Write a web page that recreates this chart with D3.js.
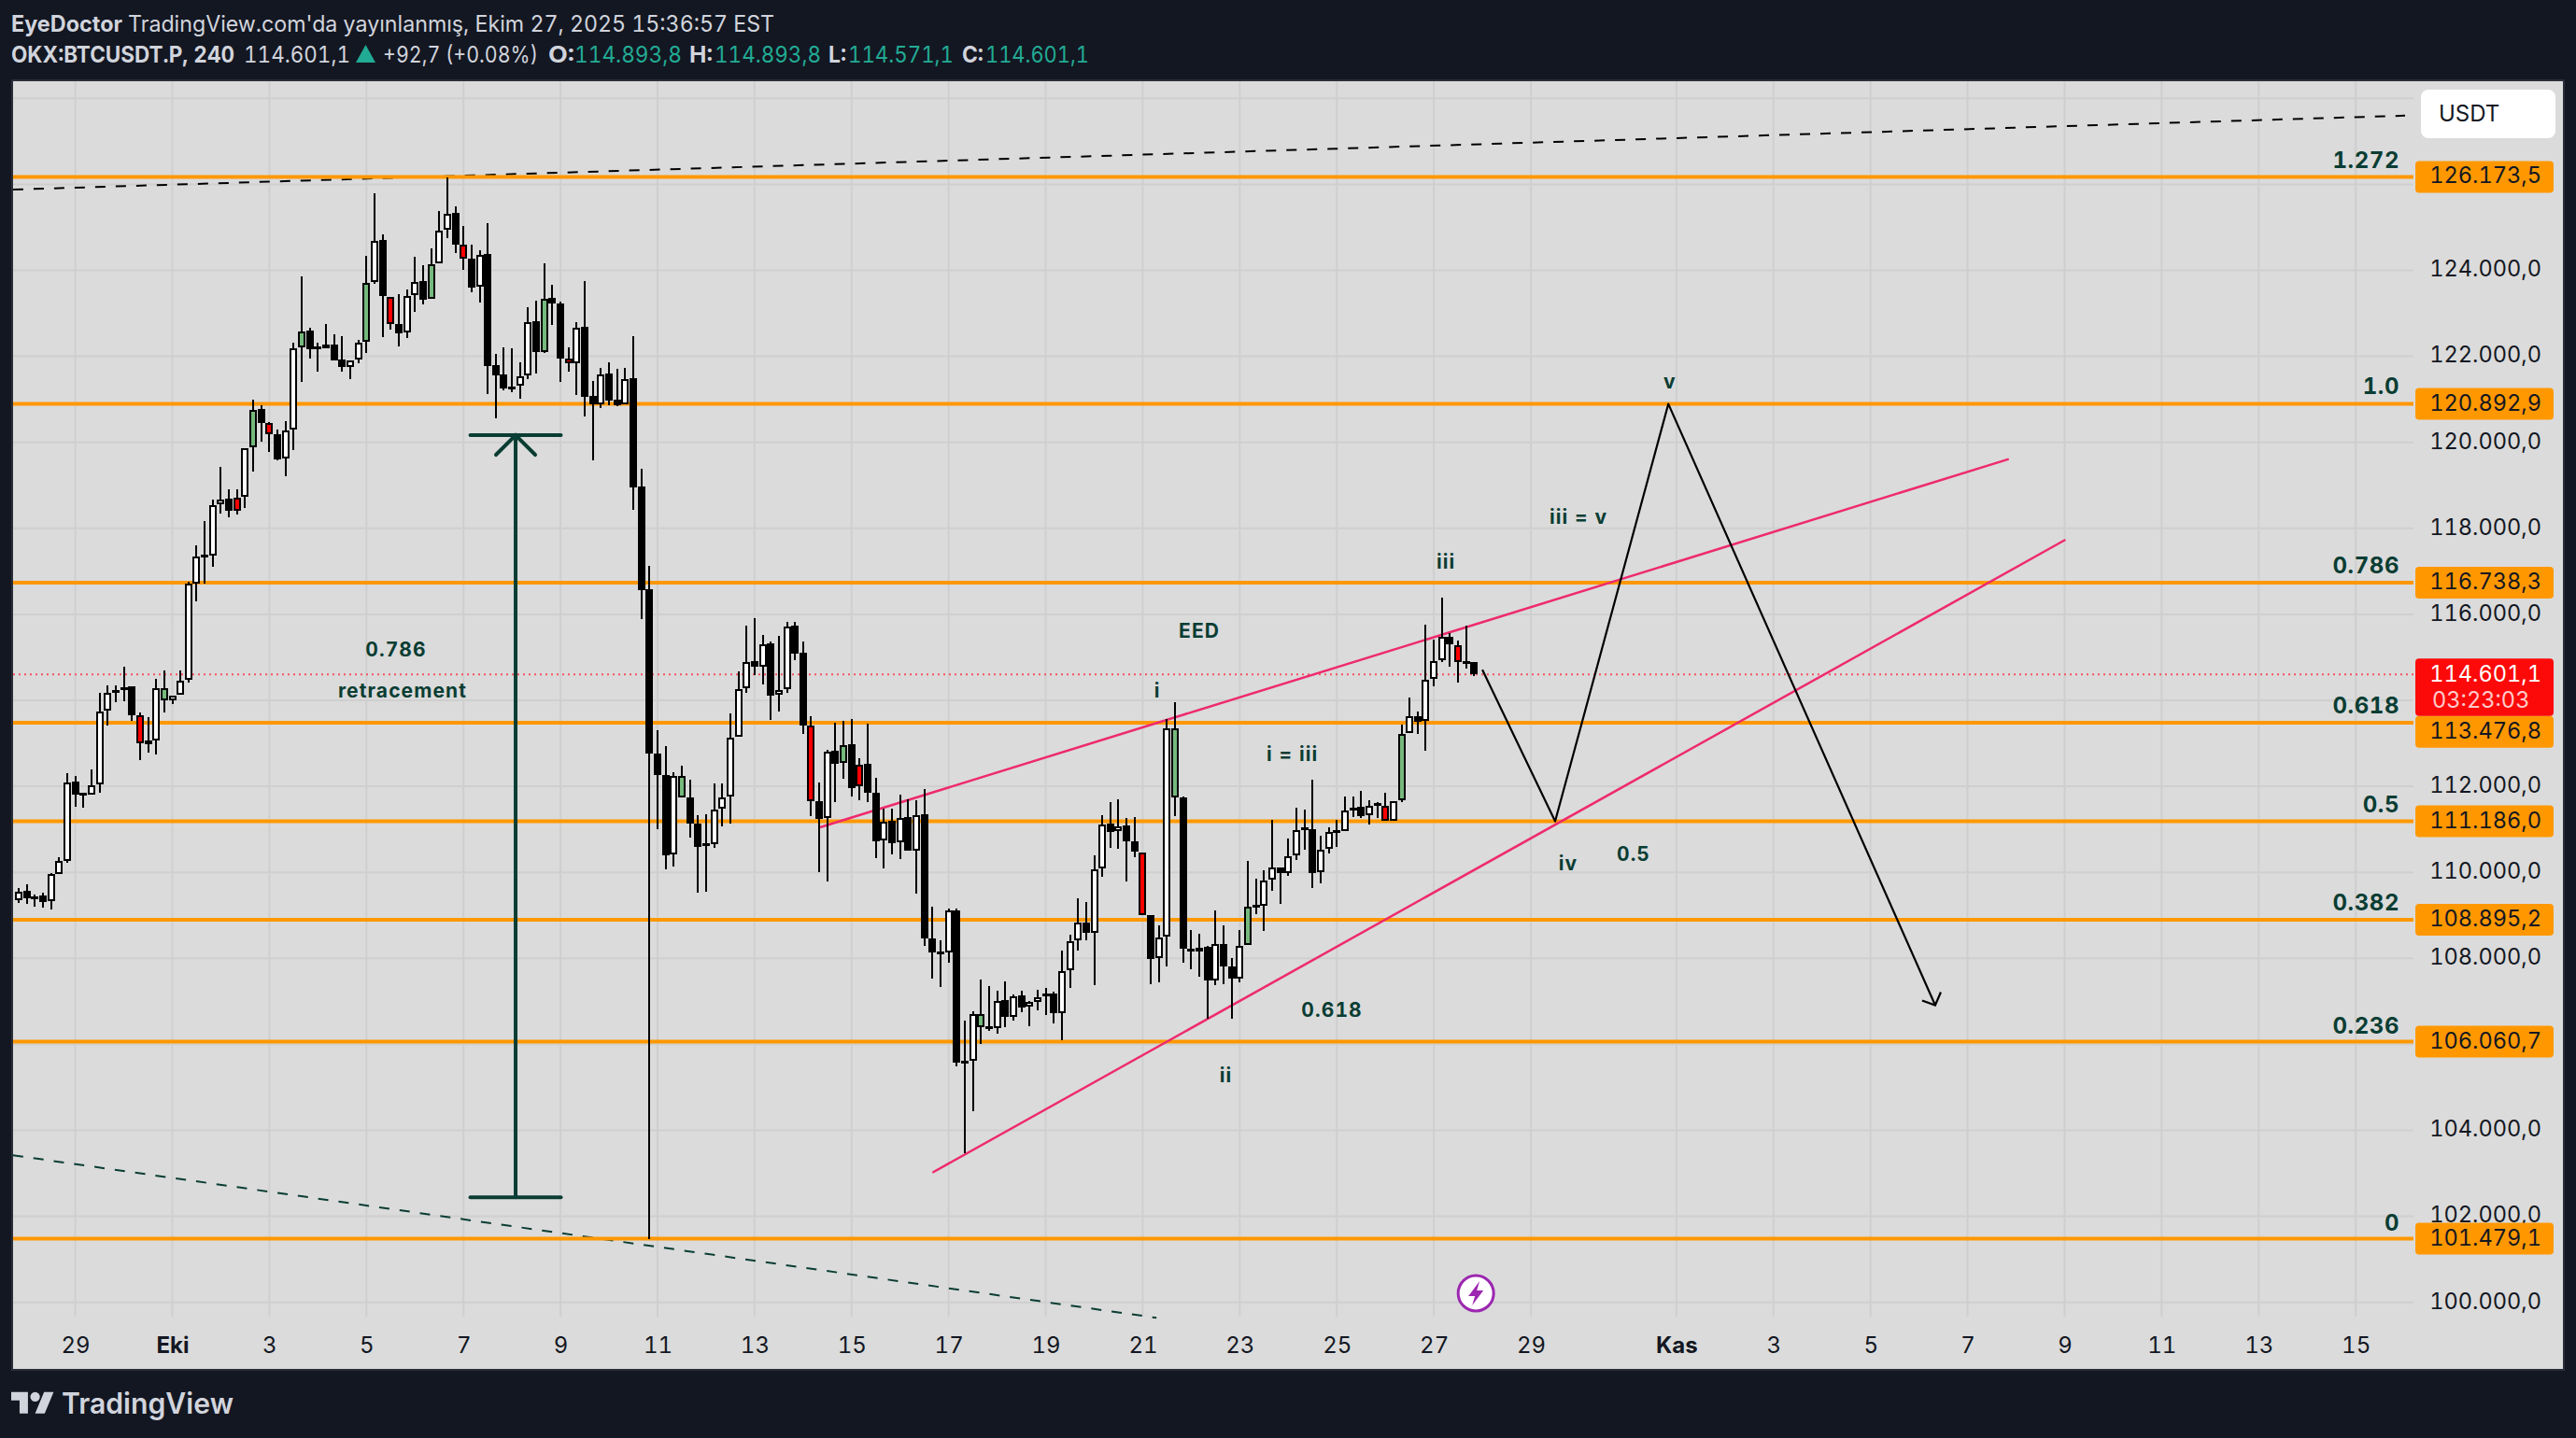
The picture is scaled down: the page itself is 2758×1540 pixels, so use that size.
<!DOCTYPE html>
<html><head><meta charset="utf-8"><script src="https://cdn.jsdelivr.net/npm/d3@7"></script>
<style>html,body{margin:0;padding:0;background:#131722;overflow:hidden}svg{display:block}text{font-family:Inter,"Noto Sans",sans-serif;font-variant-numeric:tabular-nums;font-feature-settings:"tnum" 1}</style></head><body><svg id="c" width="2758" height="1540"></svg>
<script>
const opens=[109345,109563,109440,109454,109331,109953,110272,112110,111843,111799,112038,113753,114246,114231,114318,113659,113059,113059,113992,113992,114123,114470,116707,117380,117366,118560,118683,118719,118734,119884,120767,120456,120181,119624,120297,122208,122591,122222,122266,122266,121918,121752,121918,122338,123720,124698,123388,122743,122555,123424,123750,123330,124162,124944,125327,124604,124263,123619,124372,121788,121571,121303,121310,121556,122809,122106,123351,123221,121954,121831,122678,121072,120890,121593,120985,120876,121484,118972,116577,112755,112255,110417,111748,111741,111140,110670,110648,111473,111756,113153,114282,114904,114781,115317,114123,114253,115729,115100,113420,111647,111264,112827,112545,112972,112501,112516,111843,110742,111198,110699,111278,110496,111350,108472,108154,108128,109107,105613,105613,106394,106420,106377,107021,106634,107132,106875,106995,107115,107192,106729,107716,108412,108841,108592,110086,111125,110953,111082,110730,110464,108995,107999,108506,111743,111743,108231,108154,108266,107484,108343,107802,107527,108308,109245,109219,109828,110120,109991,110395,111047,111013,109999,110541,110979,110967,111496,111518,111322,111612,111539,111206,111670,113240,113638,113515,114500,114927,115484,115289,114905,114893.8];
const highs=[109635,109715,109476,109519,109982,110344,112299,112233,111843,112393,114173,114347,114347,114774,114318,113710,113601,114492,114687,114115,114687,116750,117597,118162,118668,119428,118907,118907,119870,120985,120854,120478,120297,120492,122309,123858,122657,122309,122743,122505,122468,121904,122382,124336,125783,124835,123388,123446,123554,124314,124119,124509,125378,126160,125487,125031,124596,124459,125096,122049,122208,122186,121860,123141,123293,124162,123663,123265,122208,122794,123749,121426,121730,121853,121708,121730,122468,119385,117127,113297,112935,112320,112479,112154,111321,111343,112060,112060,113695,114665,115729,115903,115512,115367,115490,115816,115816,115367,113630,112081,112841,113478,113522,113558,112653,113449,112197,111481,111481,111806,111698,111676,111929,109193,108429,109150,109159,106548,106772,107501,107364,107244,107458,107158,107244,107003,107261,107304,107235,108171,108549,109390,109305,110395,111339,111623,111691,111254,111279,110464,108995,108764,113555,113967,111760,108661,108575,108291,109124,108764,108017,108661,110258,109845,110052,111211,110120,110781,111494,111451,112164,110859,111056,111211,111756,111771,111887,111670,111626,111858,111655,113436,114058,113732,115752,115412,116389,115556,115390,115737,114893.8];
const lows=[109295,109273,109208,109186,109143,109953,110228,111531,111510,111799,111850,113420,113963,113985,113529,112617,112791,112747,113724,113920,114123,114419,116309,116707,117112,118343,118249,118328,118480,119327,120022,119783,119588,119218,119826,121412,121954,121651,122193,121911,121651,121477,121846,122085,123692,122454,122628,122230,122432,123040,123214,123330,124162,124756,124401,124017,123496,123257,121129,120565,121216,121173,121021,121477,121600,122070,122736,121404,121643,121108,120608,119588,120804,120862,120833,120876,118437,115896,101479.1,111003,110076,110142,111748,110815,109534,109548,110576,111075,111140,113153,114180,114578,114376,113551,113739,114180,114940,113225,111314,110011,109794,111640,112176,111770,111683,111633,110337,110098,110424,110315,110496,109512,108296,107519,107338,107888,105484,103458,104453,106016,106308,106256,106402,106557,106755,106411,106797,106686,106497,106085,107321,108188,108420,107381,109905,110567,110549,109794,110361,109004,107407,107433,107819,111314,107905,107742,107562,106600,107373,107407,106600,107441,108308,109030,108626,109562,109270,109923,110283,110532,109631,109751,110429,110592,110967,111279,111264,111120,111264,111199,111192,111641,113240,113219,112835,114326,114898,114782,114420,114738,114571.1];
const closes=[109548,109389,109396,109316,109953,110272,112096,111814,111814,112031,113746,114180,114231,114311,113659,112993,112986,114289,114289,114115,114463,116707,117351,117351,118545,118668,118415,118415,119870,120760,120456,120181,119609,120282,122193,122584,122172,122193,122193,121911,121745,121904,122324,123713,124690,123395,122751,122541,123409,123735,123322,124148,124929,125320,124604,124263,123605,124357,121781,121564,121252,121274,121542,122801,122106,123344,123221,121954,121839,122671,121064,120890,121585,120977,120862,121477,118958,116569,112755,112255,110402,112241,112241,111140,110598,110641,111459,111748,113131,114267,114897,114774,115302,114115,114238,115722,115085,113420,111647,111249,112812,112530,112964,111966,111995,111843,110728,111184,110684,111271,110496,111336,108470,108128,108120,109107,105570,105578,106712,106712,106386,107012,106634,107124,106866,106986,107089,107184,106720,107699,108403,108832,108583,110077,111116,110945,111065,110730,110472,109004,107991,108489,113349,113349,108231,108154,108248,107476,108334,107802,107527,108291,109202,109210,109802,110112,109991,110378,110987,111013,109991,110532,110944,110944,111445,111467,111308,111547,111583,111199,111655,113226,113631,113508,114478,114919,115484,115296,114883,114876,114601.1];
const kinds="wkkkwwwkkw wwkwkrkwgw wwwkwwkrwg krkwwgkkkk kwwgwkrkww kgwwkrkwkk kkwwkgkkrw kkwkkwkkkk kwgkkkwwww wkwkwwkkrk wkgkrkkwkw kwkkkwkkwg kwkwkwwwkw wwkwwkwkkr kwwgkrwkwk kwgkwwkwwk kwwkwkkwkr wgwkwwwkrkk".replace(/ /g,"").split("");
const fibLevels=[126173.5,120892.9,116738.3,113476.8,111186.0,108895.2,106060.7,101479.1];
const fibNames=["1.272","1.0","0.786","0.618","0.5","0.382","0.236","0"];
const fibNameOffsets=[-18.5,-19,-19,-18.5,-18.5,-18.5,-17.5,-17.5];
const priceTicks=d3.range(100000,128001,2000);
const priceLabelTicks=d3.range(100000,124001,2000);
const dateBars=[7,19,31,43,55,67,79,91,103,115,127,139,151,163,175,187,205,217,229,241,253,265,277,289];
const dateLabels=["29","Eki","3","5","7","9","11","13","15","17","19","21","23","25","27","29","Kas","3","5","7","9","11","13","15"];
const lastPrice=114601.1;
const notes=[["0.786",46.66,115194],["retracement",47.47,114238],["EED",146,115628],["i",140.8,114238],["i = iii",157.5,112762],["0.618",162.4,106797],["ii",149.3,105292],["iii",176.5,117220],["iii = v",192.9,118263],["v",204.2,121412],["iv",191.6,110221],["0.5",199.7,110423]];
const waveBars=[181,190,204,237], wavePrices=[114710,111186,120892.9,106910];
const upperBars=[99.1,246.1], upperPrices=[111046,119611];
const lowerBars=[113,253.1], lowerPrices=[103018,117735];
const topDashBars=[-0.7,295.1], topDashPrices=[125878,127598];
const lowDashBars=[-0.7,140.7], lowDashPrices=[103420,99640];
const rulerBar=61.45, rulerBarHalf=5.6, rulerTop=120167, rulerBottom=102440;

const L=14,T=87,R=2744,B=1466,PR=2584,PB=1410;
const x=d3.scaleLinear().domain([0,180]).range([20,1578.44]);
const y=d3.scaleLinear().domain([100000,124000]).range([1394.7,289.5]);
const svg=d3.select("#c");
const dark="#0a3d33",orange="#ff9800",pink="#ee2a6e",ink="#131722";
const fmt=d3.formatLocale({decimal:",",thousands:".",grouping:[3],currency:["",""]}).format(",.1f");
const line=d3.line().x(d=>x(d[0])).y(d=>y(d[1]));
const zip=(a,b)=>a.map((v,i)=>[v,b[i]]);

svg.append("rect").attr("width",2758).attr("height",1540).attr("fill","#131722");
svg.append("rect").attr("x",L-1).attr("y",T-1).attr("width",R-L+2).attr("height",B-T+2).attr("fill","#dbdbdb").attr("stroke","#2a2e39").attr("stroke-width",2);

// grid
svg.append("g").selectAll("line").data(priceTicks).join("line").attr("x1",L).attr("x2",PR).attr("y1",d=>y(d)).attr("y2",d=>y(d)).attr("stroke","#cfcfcf").attr("stroke-width",2);
svg.append("g").selectAll("line").data(dateBars).join("line").attr("x1",d=>x(d)).attr("x2",d=>x(d)).attr("y1",T).attr("y2",PB).attr("stroke","#cfcfcf").attr("stroke-width",2);

// dashed trend lines
svg.append("path").attr("d",line(zip(topDashBars,topDashPrices))).attr("fill","none").attr("stroke","#000").attr("stroke-width",2).attr("stroke-dasharray","11 11");
svg.append("path").attr("d",line(zip(lowDashBars,lowDashPrices))).attr("fill","none").attr("stroke",dark).attr("stroke-width",2).attr("stroke-dasharray","11 11");

// fib lines
svg.append("g").selectAll("line").data(fibLevels).join("line").attr("x1",L).attr("x2",PR).attr("y1",d=>y(d)).attr("y2",d=>y(d)).attr("stroke",orange).attr("stroke-width",4);
// last price
svg.append("line").attr("x1",L).attr("x2",PR).attr("y1",y(lastPrice)).attr("y2",y(lastPrice)).attr("stroke","#f7525f").attr("stroke-width",2).attr("stroke-dasharray","2 4");

// ruler
const rg=svg.append("g").attr("stroke",dark).attr("stroke-width",4).attr("fill","none").attr("stroke-linecap","round");
const rx=x(rulerBar);
rg.append("line").attr("x1",rx).attr("x2",rx).attr("y1",y(rulerTop)).attr("y2",y(rulerBottom));
[[rulerTop],[rulerBottom]].forEach(([p])=>rg.append("line").attr("x1",x(rulerBar-rulerBarHalf)).attr("x2",x(rulerBar+rulerBarHalf)).attr("y1",y(p)).attr("y2",y(p)));
rg.append("path").attr("d",`M${rx-21},${y(rulerTop)+21}L${rx},${y(rulerTop)}L${rx+21},${y(rulerTop)+21}`);

// pink wedge
svg.append("path").attr("d",line(zip(upperBars,upperPrices))).attr("fill","none").attr("stroke",pink).attr("stroke-width",2.5);
svg.append("path").attr("d",line(zip(lowerBars,lowerPrices))).attr("fill","none").attr("stroke",pink).attr("stroke-width",2.5);

// wave
svg.append("path").attr("d",line(zip(waveBars,wavePrices))).attr("fill","none").attr("stroke","#000").attr("stroke-width",2.2).attr("stroke-linejoin","round");
const ae=[x(waveBars[3]),y(wavePrices[3])];
svg.append("path").attr("d",`M${ae[0]-14},${ae[1]-5}L${ae[0]},${ae[1]}L${ae[0]+6},${ae[1]-14}`).attr("fill","none").attr("stroke","#000").attr("stroke-width",2.2);

// candles
const fillOf={w:"#fff",k:"#000",g:"#76b97c",r:"#ff0000"};
const idx=d3.range(opens.length);
const cg=svg.append("g").attr("shape-rendering","crispEdges");
const px=i=>Math.round(x(i));
cg.selectAll("rect.w").data(idx).join("rect").attr("class","w").attr("x",i=>px(i)-1).attr("width",2).attr("y",i=>y(highs[i])).attr("height",i=>y(lows[i])-y(highs[i])).attr("fill","#000");
cg.selectAll("rect.b").data(idx).join("rect").attr("class","b")
 .attr("x",i=>px(i)-3).attr("width",6)
 .attr("y",i=>y(Math.max(opens[i],closes[i]))+1)
 .attr("height",i=>Math.max(1,y(Math.min(opens[i],closes[i]))-y(Math.max(opens[i],closes[i]))-2))
 .attr("fill",i=>fillOf[kinds[i]]).attr("stroke","#000").attr("stroke-width",2);

// annotations
const tg=svg.append("g").attr("font-weight",700).attr("font-size",21).attr("fill",dark).attr("text-anchor","middle").attr("letter-spacing",1.1);
tg.selectAll("text").data(notes).join("text").attr("x",d=>x(d[1])).attr("y",d=>y(d[2])).attr("dy",".36em").text(d=>d[0]);
svg.append("g").attr("font-weight",700).attr("font-size",24).attr("fill",dark).attr("text-anchor","end").attr("letter-spacing",0.6)
 .selectAll("text").data(fibLevels).join("text").attr("x",2569).attr("y",(d,i)=>y(d)+fibNameOffsets[i]).attr("dy",".36em").text((d,i)=>fibNames[i]);

// axes
const yAxis=d3.axisRight(y).tickValues(priceLabelTicks).tickSize(0).tickPadding(0).tickFormat(fmt);
const ya=svg.append("g").attr("transform","translate(2721,-2.2)").call(yAxis);
ya.select(".domain").remove();
ya.attr("text-anchor","end").attr("font-size",23.6).attr("font-family",null);
ya.selectAll("text").attr("fill",ink).attr("font-family","Inter").attr("dy",".36em").attr("x",0);
const xAxis=d3.axisBottom(x).tickValues(dateBars).tickSize(0).tickPadding(0).tickFormat((d,i)=>dateLabels[i]);
const xa=svg.append("g").attr("transform","translate(0,1440)").call(xAxis);
xa.select(".domain").remove();
xa.attr("font-size",24);
xa.selectAll("text").attr("fill",ink).attr("font-family","Inter").attr("dy",".36em").attr("y",0).attr("font-weight",(d,i)=>/[A-Za-z]/.test(dateLabels[i])?700:400);

// price labels
const redTop=y(lastPrice)-17, redH=61.5;
const lg=svg.append("g");
fibLevels.forEach(p=>{
  const top=Math.max(y(p)-17, (p<lastPrice&&y(p)-17<redTop+redH)?redTop+redH:0);
  lg.append("rect").attr("x",2586).attr("y",top).attr("width",148).attr("height",34).attr("rx",4).attr("fill",orange);
  lg.append("text").attr("x",2721).attr("y",top+15.5).attr("dy",".36em").attr("text-anchor","end").attr("font-size",23.6).attr("fill",ink).text(fmt(p));
});
lg.append("rect").attr("x",2586).attr("y",redTop).attr("width",148).attr("height",redH).attr("rx",4).attr("fill","#fc0a0a");
lg.append("text").attr("x",2721).attr("y",redTop+16).attr("dy",".36em").attr("text-anchor","end").attr("font-size",23.6).attr("fill","#fff").text(fmt(lastPrice));
lg.append("text").attr("x",2604).attr("y",redTop+44).attr("dy",".36em").attr("font-size",23.6).attr("fill","#ffffff").attr("fill-opacity",.8).text("03:23:03");
// USDT button
svg.append("rect").attr("x",2592).attr("y",96).attr("width",144).attr("height",52).attr("rx",8).attr("fill","#fff");
svg.append("text").attr("x",2611).attr("y",121).attr("dy",".36em").attr("font-size",24).attr("fill",ink).text("USDT");

// lightning icon
const icon=svg.append("g").attr("transform",`translate(${x(180.2)},1385)`);
icon.append("circle").attr("r",19).attr("fill","#fff").attr("stroke","#9c27b0").attr("stroke-width",3);
icon.append("path").attr("d","M4,-13L-8,3H-1L-4,13L8,-3H1Z").attr("fill","#9c27b0");

// header
const hdr1=[["EyeDoctor",12,700,119],["TradingView.com'da yayınlanmış, Ekim 27, 2025 15:36:57 EST",137,400,692]];
svg.append("g").attr("font-size",24).attr("fill","#d1d4dc").selectAll("text").data(hdr1).join("text").attr("x",d=>d[1]).attr("y",25).attr("dy",".36em").attr("font-weight",d=>d[2]).attr("textLength",d=>d[3]).attr("lengthAdjust","spacingAndGlyphs").text(d=>d[0]);
const hdr=[["OKX:BTCUSDT.P, 240",12,700,"#d1d4dc",239],["114.601,1",261,400,"#d1d4dc",114],["+92,7 (+0.08%)",410,400,"#d1d4dc",166],["O:",587,700,"#d1d4dc",28],["114.893,8",615,400,"#22ab94",115],["H:",738,700,"#d1d4dc",25],["114.893,8",765,400,"#22ab94",114],["L:",887,700,"#d1d4dc",19],["114.571,1",908,400,"#22ab94",113],["C:",1030,700,"#d1d4dc",23],["114.601,1",1055,400,"#22ab94",111]];
svg.append("g").attr("font-size",24).selectAll("text").data(hdr).join("text").attr("x",d=>d[1]).attr("y",58).attr("dy",".36em").attr("font-weight",d=>d[2]).attr("fill",d=>d[3]).attr("textLength",d=>d[4]).attr("lengthAdjust","spacingAndGlyphs").text(d=>d[0]);
svg.append("path").attr("d","M381,67L391.5,48L402,67Z").attr("fill","#22ab94");

// logo
const lgo=svg.append("g").attr("transform","translate(12,1485.6) scale(1.28)").attr("fill","#d1d4dc");
lgo.append("path").attr("d","M14 22H7V11H0V4h14v18zM28 22h-8l7.5-18h8L28 22z");
lgo.append("circle").attr("cx",20).attr("cy",8).attr("r",4);
svg.append("text").attr("x",66).attr("y",1514).attr("font-size",31).attr("font-weight",600).attr("fill","#d1d4dc").attr("textLength",184).attr("lengthAdjust","spacingAndGlyphs").text("TradingView");
</script></body></html>
